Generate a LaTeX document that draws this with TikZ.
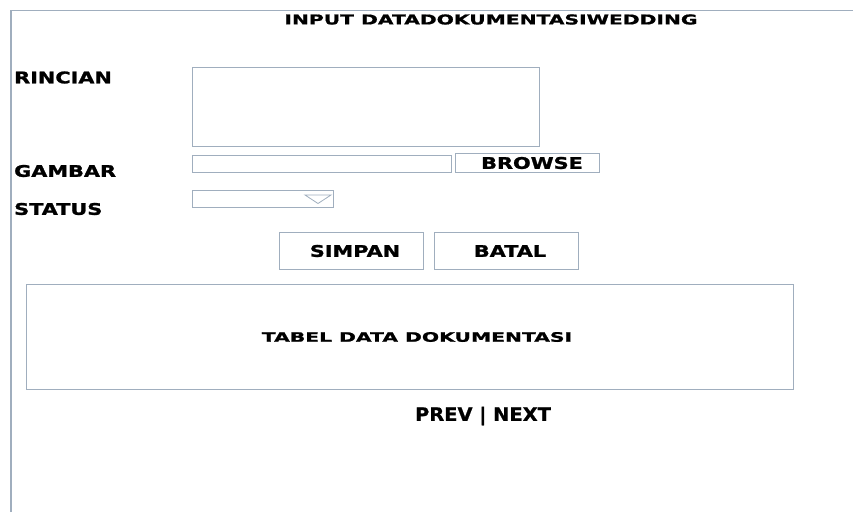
\documentclass[tikz,border=0pt]{standalone}
\usepackage{fontspec}
\usepackage{tikz}
\usetikzlibrary{positioning}
\newfontfamily\uifont{DejaVu Sans Bold}[FakeStretch=1.3, FakeBold=1.5]
\newfontfamily\titlefont{DejaVu Sans Bold}[FakeStretch=1.5, FakeBold=1.2]
\newfontfamily\tabelfont{DejaVu Sans Bold}[FakeStretch=1.56, FakeBold=1.2]
\newfontfamily\navfont{DejaVu Sans Bold}[FakeStretch=1.05, FakeBold=1]
\definecolor{framegray}{RGB}{160, 174, 190}

\begin{document}
\begin{tikzpicture}[
  x=1pt, y=-1pt,
  field/.style={draw=framegray, line width=1pt, rectangle, anchor=north west, inner sep=0pt},
  btn/.style={draw=framegray, line width=1pt, rectangle, inner sep=0pt, font=\uifont\fontsize{16}{18}\selectfont},
  lbl/.style={anchor=west, inner sep=0pt, font=\uifont\fontsize{16}{18}\selectfont},
]
  \useasboundingbox (0,0) rectangle (853,512);
  % outer frame
  \draw[framegray, line width=1.2pt] (11,512) -- (11,10.5) -- (853,10.5);
  \node[inner sep=0pt, font=\titlefont\fontsize{13.5}{16}\selectfont] (title) at (491,19.5) {INPUT DATADOKUMENTASIWEDDING};

  % form
  \node[lbl] (rincian) at (14,77.5) {RINCIAN};
  \node[field, minimum width=347, minimum height=79] (rincianbox) at (192,67) {};
  \node[lbl] (gambar) at (14,171) {GAMBAR};
  \node[field, minimum width=259, minimum height=17] (gambarbox) at (192,155) {};
  \node[btn, minimum width=144, minimum height=19] (browse) at (527,162.5) {};
  \node[inner sep=0pt, font=\uifont\fontsize{16}{18}\selectfont] (browsetxt) at (532,163) {BROWSE};
  \node[lbl] (status) at (14,209) {STATUS};
  \node[field, minimum width=141, minimum height=17] (statusbox) at (192,190) {};
  \draw[framegray, line width=0.8pt] (305,195) -- (331,195) -- (318,203.5) -- cycle;

  \node[btn, minimum width=144, minimum height=37] (simpan) at (351,250.5) {};
  \node[inner sep=0pt, font=\uifont\fontsize{16}{18}\selectfont] (simpantxt) at (355,251) {SIMPAN};
  \node[btn, minimum width=144, minimum height=37] (batal) at (506,250.5) {};
  \node[inner sep=0pt, font=\uifont\fontsize{16}{18}\selectfont] (bataltxt) at (510,251) {BATAL};

  % tabel
  \node[field, minimum width=767, minimum height=105] (tabel) at (26,284) {};
  \node[inner sep=0pt, font=\tabelfont\fontsize{13}{16}\selectfont] (tabeltxt) at (417,337) {TABEL DATA DOKUMENTASI};
  \node[inner sep=0pt, font=\navfont\fontsize{18.5}{21}\selectfont] (nav) at (483,416) {PREV | NEXT};
\end{tikzpicture}
\end{document}
